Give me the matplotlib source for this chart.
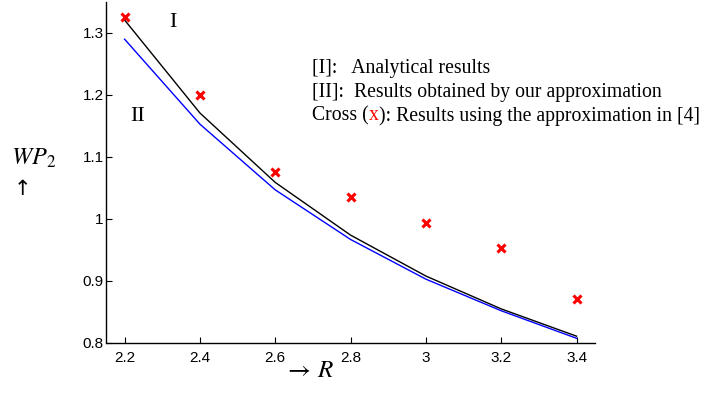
import matplotlib
matplotlib.use("Agg")
import matplotlib.pyplot as plt
from matplotlib.ticker import FuncFormatter

R = [2.2, 2.4, 2.6, 2.8, 3.0, 3.2, 3.4]
wp_analytical = [1.321, 1.171, 1.059, 0.974, 0.908, 0.855, 0.811]
wp_ours = [1.290, 1.153, 1.047, 0.967, 0.903, 0.852, 0.8076]
wp_ref4 = [1.326, 1.200, 1.076, 1.035, 0.994, 0.953, 0.871]
xticks = [2.2, 2.4, 2.6, 2.8, 3.0, 3.2, 3.4]
yticks = [0.8, 0.9, 1.0, 1.1, 1.2, 1.3]

fig = plt.figure(figsize=(7.08, 4.12), dpi=100)
ax = fig.add_axes([106.5/708, 1-343/412, (595-106.5)/708, (343-2)/412])

ax.plot(R, wp_analytical, color='black', lw=1.0)
ax.plot(R, wp_ours, color='blue', lw=1.0)
ax.plot(R, wp_ref4, linestyle='none', marker='x', color='red', ms=6, mew=2.2)

ax.set_xlim(2.152, 3.449)
ax.set_ylim(0.8, 1.35)
ax.set_xticks(xticks)
ax.set_yticks(yticks)
fmt = FuncFormatter(lambda v, p: ('%g' % round(v, 2)))
ax.xaxis.set_major_formatter(fmt)
ax.yaxis.set_major_formatter(fmt)
ax.spines['top'].set_visible(False)
ax.spines['right'].set_visible(False)
for s in ['left', 'bottom']:
    ax.spines[s].set_linewidth(1.0)
tickfont = ['Liberation Sans Narrow', 'Liberation Sans', 'DejaVu Sans']
ax.tick_params(direction='in', length=4, width=0.8, pad=6, labelsize=11)
for lab in ax.get_xticklabels() + ax.get_yticklabels():
    lab.set_family(tickfont)
ax.tick_params(axis='y', pad=2)

serif = ['Liberation Serif', 'DejaVu Serif']
ax.text(0.136, 0.94, 'I', transform=ax.transAxes, fontsize=16, family=serif, ha='center', va='center')
ax.text(0.063, 0.665, 'II', transform=ax.transAxes, fontsize=16, family=serif, ha='center', va='center')

fs = 14.2
fig.text(312/708, 1-69/412, '[I]:   Analytical results', fontsize=fs, family=serif, va='center')
fig.text(312/708, 1-92.5/412, '[II]:  Results obtained by our approximation', fontsize=fs, family=serif, va='center')
t1 = fig.text(312/708, 1-116/412, 'Cross (', fontsize=fs, family=serif, va='center')
fig.canvas.draw()
r = fig.canvas.get_renderer()
bb = t1.get_window_extent(r)
t2 = fig.text(bb.x1/708, 1-116/412, 'x', fontsize=fs, family=serif, va='center', color='red')
bb2 = t2.get_window_extent(r)
fig.text(bb2.x1/708, 1-116/412, '): Results using the approximation in [4]', fontsize=fs, family=serif, va='center')

fig.text(11/708, 1-158/412, r'$\mathit{WP}_2$', fontsize=17.5, va='center', math_fontfamily='stix')
fig.text(22/708, 1-189/412, '\u2191', fontsize=15, family=['DejaVu Sans'], va='center', ha='center')
fig.text(284/708, 1-370/412, r'$\rightarrow\,\mathit{R}$', fontsize=18, va='center', math_fontfamily='stix')

fig.savefig('out.png', dpi=100)
